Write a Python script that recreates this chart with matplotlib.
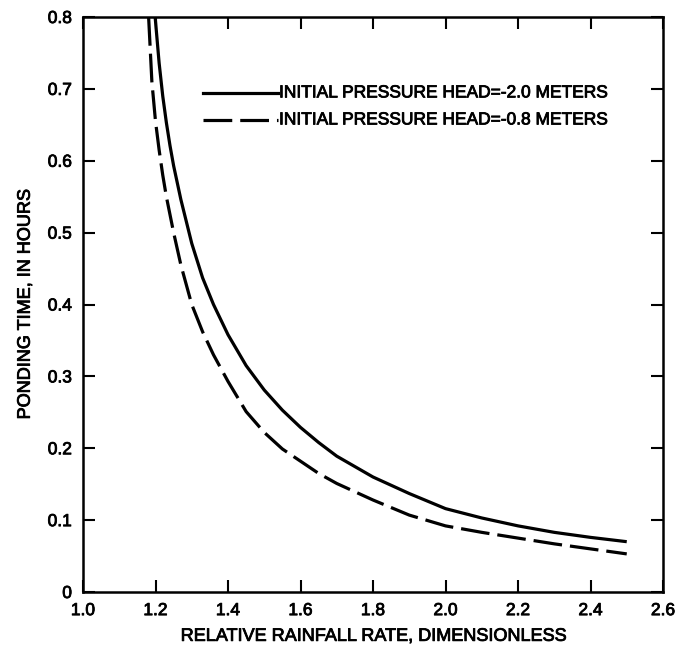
import matplotlib
matplotlib.use("Agg")
import matplotlib.pyplot as plt
import matplotlib.patheffects as pe

plt.rcParams['font.family'] = ['Liberation Sans', 'DejaVu Sans']

# Initial pressure head = -2.0 m (solid)
solid_x = [1.199, 1.21, 1.22, 1.23, 1.24, 1.25, 1.27, 1.30, 1.33, 1.36, 1.40, 1.45,
           1.50, 1.55, 1.60, 1.65, 1.70, 1.80, 1.90, 2.00, 2.10, 2.20, 2.30, 2.40, 2.50]
solid_y = [0.80, 0.736, 0.690, 0.653, 0.621, 0.593, 0.546, 0.485, 0.437, 0.400, 0.358, 0.315,
           0.281, 0.253, 0.229, 0.208, 0.189, 0.160, 0.137, 0.116, 0.103, 0.092, 0.083, 0.076, 0.070]

# Initial pressure head = -0.8 m (dashed)
dash_x = [1.181, 1.19, 1.20, 1.21, 1.22, 1.23, 1.25, 1.27, 1.30, 1.33, 1.36, 1.40, 1.45,
          1.50, 1.55, 1.60, 1.65, 1.70, 1.80, 1.90, 2.00, 2.10, 2.20, 2.30, 2.40, 2.50]
dash_y = [0.80, 0.710, 0.655, 0.615, 0.580, 0.550, 0.500, 0.455, 0.400, 0.362, 0.330, 0.293, 0.251,
          0.222, 0.199, 0.182, 0.165, 0.151, 0.128, 0.107, 0.092, 0.083, 0.075, 0.067, 0.060, 0.053]

labels = ["INITIAL PRESSURE HEAD=-2.0 METERS", "INITIAL PRESSURE HEAD=-0.8 METERS"]

xticks = [1.0, 1.2, 1.4, 1.6, 1.8, 2.0, 2.2, 2.4, 2.6]
yticks = [0, 0.1, 0.2, 0.3, 0.4, 0.5, 0.6, 0.7, 0.8]
xticklabels = ["1.0", "1.2", "1.4", "1.6", "1.8", "2.0", "2.2", "2.4", "2.6"]
yticklabels = ["0", "0.1", "0.2", "0.3", "0.4", "0.5", "0.6", "0.7", "0.8"]

thick = [pe.withStroke(linewidth=0.6, foreground='black')]

fig = plt.figure(figsize=(6.76, 6.50), dpi=100)
ax = fig.add_axes([83/676, 1 - 592/650, 580/676, 575/650])

lw = 2.3
ax.plot(solid_x, solid_y, color='black', lw=lw, solid_capstyle='butt', solid_joinstyle='round')
ax.plot(dash_x, dash_y, color='black', lw=lw, dashes=(9, 2.5), dash_capstyle='butt',
        dash_joinstyle='round')

ax.set_xlim(1.0, 2.6)
ax.set_ylim(0, 0.8)
ax.set_xticks(xticks)
ax.set_xticklabels(xticklabels)
ax.set_yticks(yticks)
ax.set_yticklabels(yticklabels)
ax.tick_params(direction='in', length=8.5, width=1.5, top=True, right=True,
               labelsize=12.5, pad=8, colors='black')
for lab in ax.get_xticklabels() + ax.get_yticklabels():
    lab.set_path_effects(thick)
for s in ax.spines.values():
    s.set_linewidth(1.8)

ax.set_xlabel("RELATIVE RAINFALL RATE, DIMENSIONLESS", fontsize=13, labelpad=7,
              path_effects=thick)
ax.set_ylabel("PONDING TIME, IN HOURS", fontsize=13, labelpad=10, path_effects=thick)

# legend drawn manually
lx0, lx1, tx = 0.207, 0.336, 0.338
ly = [0.868, 0.821]
ax.plot([lx0, lx1], [ly[0], ly[0]], transform=ax.transAxes, color='black', lw=lw)
ax.plot([lx0, lx1], [ly[1], ly[1]], transform=ax.transAxes, color='black', lw=lw,
        dashes=(9, 2.5))
for y, t in zip(ly, labels):
    ax.text(tx, y, t, transform=ax.transAxes, fontsize=12.5, va='center', ha='left',
            path_effects=thick)

fig.savefig("out.png", dpi=100)
